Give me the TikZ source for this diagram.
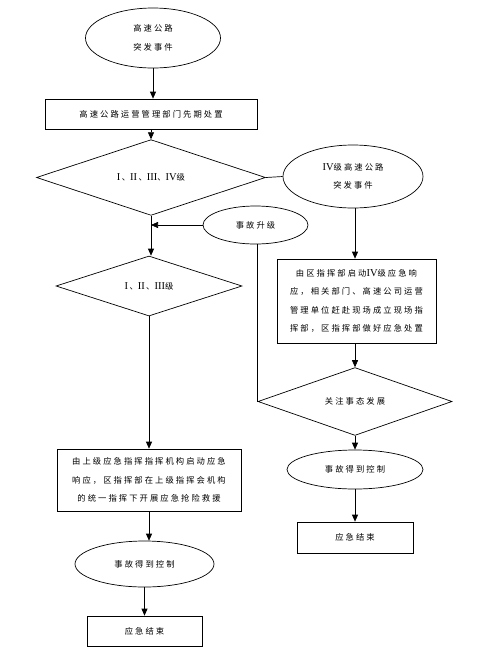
\documentclass[tikz,border=0pt]{standalone}
\usepackage{fontspec}
\setmainfont{Liberation Serif}
\newfontfamily\cjk[LetterSpace=25]{Noto Sans CJK SC}
\usetikzlibrary{shapes.geometric,arrows.meta}
\newcommand\romnum[1]{{\rmfamily\fontsize{10.5}{18.5}\selectfont #1}}
\begin{document}
\begin{tikzpicture}[x=1pt,y=-1pt,
  base/.style={draw, line width=0.7pt, inner sep=0pt, align=center,
    font={\cjk\fontsize{8.3}{18.5}\selectfont}},
  ell/.style={base, ellipse},
  box/.style={base, rectangle},
  dia/.style={base, diamond},
  arr/.style={-{Triangle[length=7pt,width=6pt]}, line width=0.7pt},
  ln/.style={line width=0.7pt}]
\useasboundingbox (0,0) rectangle (484,654);
% left column
\node[ell, minimum width=135pt, minimum height=60pt] (e1) at (153,38) {高速公路\\突发事件};
\node[box, minimum width=212pt, minimum height=30pt] (r1) at (151,114) {高速公路运营管理部门先期处置};
\node[dia, minimum width=229pt, minimum height=57pt] (d1) at (151,177.5) {\romnum{I}\,、\romnum{II}\,、\romnum{III}、\romnum{IV}级};
\node[dia, minimum width=186pt, minimum height=60pt] (d2) at (149,286) {\romnum{I}\,、\romnum{II}\,、\romnum{III}级};
\node[box, minimum width=184pt, minimum height=62pt] (r3) at (149,480) {由上级应急指挥指挥机构启动应急\\响应，区指挥部在上级指挥会机构\\的统一指挥下开展应急抢险救援};
\node[ell, minimum width=139pt, minimum height=46pt] (e5) at (144.5,564) {事故得到控制};
\node[box, minimum width=115pt, minimum height=30pt] (r5) at (144.5,631) {应急结束};
% right column
\node[ell, minimum width=140pt, minimum height=63pt] (e2) at (353,176.5) {\romnum{IV}级高速公路\\突发事件};
\node[ell, minimum width=105pt, minimum height=38pt] (e3) at (255.5,225) {事故升级};
\node[box, minimum width=159pt, minimum height=84pt] (r2) at (356.5,301) {由区指挥部启动\romnum{IV}级应急响\\应，相关部门、高速公司运营\\管理单位赶赴现场成立现场指\\挥部，区指挥部做好应急处置};
\node[dia, minimum width=194pt, minimum height=59pt] (d3) at (355,401.5) {关注事态发展};
\node[ell, minimum width=136pt, minimum height=39pt] (e4) at (355,469.5) {事故得到控制};
\node[box, minimum width=116pt, minimum height=31pt] (r4) at (355,537.5) {应急结束};
% connectors
\draw[arr] (e1.south) -- (e1.south |- r1.north);
\draw[arr] (r1.south) -- (r1.south |- d1.north);
\draw[ln] (d1.east) -- (e2.west);
\draw[arr] (d1.south) -- (d1.south |- d2.north);
\draw[arr] (e3.west) -- (d1.south |- e3.west);
\draw[ln] (d3.west) -- (d3.west |- e3.south);
\draw[arr] (d2.south) -- (d2.south |- r3.north);
\draw[arr] (r3.south) -- (r3.south |- e5.north);
\draw[arr] (e5.south) -- (e5.south |- r5.north);
\draw[arr] (e2.south -| d3.north) -- (d3.north |- r2.north);
\draw[arr] (r2.south -| d3.north) -- (d3.north);
\draw[arr] (d3.south) -- (e4.north);
\draw[arr] (e4.south) -- (r4.north);
\end{tikzpicture}
\end{document}
